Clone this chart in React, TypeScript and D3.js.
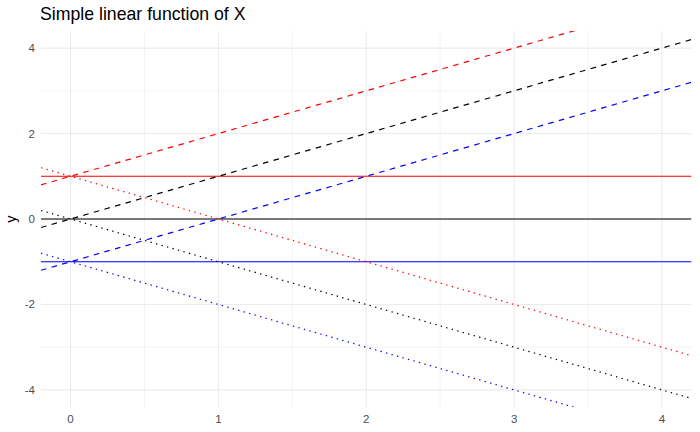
import React from "react";
import * as d3 from "d3";

const W = 700;
const H = 432;

const intercepts = [1, 0, -1];
const colors = ["red", "black", "blue"];
const slopes = [0, 1, -1];
const lineTypes = ["solid", "dashed", "dotted"];
const xTicks = [0, 1, 2, 3, 4];
const xMinor = [0.5, 1.5, 2.5, 3.5];
const yTicks = [-4, -2, 0, 2, 4];
const yMinor = [-3, -1, 1, 3];
const xDomain = [-0.2, 4.2];
const yDomain = [-4.4, 4.4];

const title = "Simple linear function of X";
const yLabel = "y";

const margin = { left: 41, right: 8.5, top: 31, bottom: 25 };

export default function App() {
  const x = d3.scaleLinear().domain(xDomain).range([margin.left, W - margin.right]);
  const y = d3.scaleLinear().domain(yDomain).range([H - margin.bottom, margin.top]);
  const line = d3
    .line<[number, number]>()
    .x((d) => x(d[0]))
    .y((d) => y(d[1]));

  const dashFor = (t: string) =>
    t === "dashed" ? "5.6,5.4" : t === "dotted" ? "1.4,4.3" : undefined;

  const lines: { d: string; color: string; dash?: string; key: string }[] = [];
  slopes.forEach((s, si) => {
    intercepts.forEach((b, bi) => {
      const pts: [number, number][] = [
        [xDomain[0], b + s * xDomain[0]],
        [xDomain[1], b + s * xDomain[1]],
      ];
      lines.push({
        d: line(pts) || "",
        color: colors[bi],
        dash: dashFor(lineTypes[si]),
        key: `${si}-${bi}`,
      });
    });
  });

  const font = "'Liberation Sans', Arial, sans-serif";
  const px0 = margin.left;
  const px1 = W - margin.right;
  const py0 = margin.top;
  const py1 = H - margin.bottom;

  return (
    <svg width={W} height={H} style={{ position: "absolute", left: 0, top: 0, background: "white" }}>
      <defs>
        <clipPath id="panel">
          <rect x={px0} y={py0} width={px1 - px0} height={py1 - py0} />
        </clipPath>
      </defs>
      <rect x={0} y={0} width={W} height={H} fill="white" />
      {xMinor.map((v) => (
        <line key={"xm" + v} x1={x(v)} x2={x(v)} y1={py0} y2={py1} stroke="#ebebeb" strokeWidth={0.6} />
      ))}
      {yMinor.map((v) => (
        <line key={"ym" + v} x1={px0} x2={px1} y1={y(v)} y2={y(v)} stroke="#ebebeb" strokeWidth={0.6} />
      ))}
      {xTicks.map((v) => (
        <line key={"xg" + v} x1={x(v)} x2={x(v)} y1={py0} y2={py1} stroke="#ebebeb" strokeWidth={1.1} />
      ))}
      {yTicks.map((v) => (
        <line key={"yg" + v} x1={px0} x2={px1} y1={y(v)} y2={y(v)} stroke="#ebebeb" strokeWidth={1.1} />
      ))}
      <g clipPath="url(#panel)">
        {lines.map((l) => (
          <path key={l.key} d={l.d} fill="none" stroke={l.color} strokeWidth={1.2} strokeDasharray={l.dash} />
        ))}
      </g>
      {xTicks.map((v) => (
        <text key={"xt" + v} x={x(v)} y={py1 + 16} textAnchor="middle" fontFamily={font} fontSize={11.5} fill="#4d4d4d">
          {v}
        </text>
      ))}
      {yTicks.map((v) => (
        <text key={"yt" + v} x={px0 - 6} y={y(v) + 4} textAnchor="end" fontFamily={font} fontSize={11.5} fill="#4d4d4d">
          {v}
        </text>
      ))}
      <text
        transform={`translate(${16},${(py0 + py1) / 2}) rotate(-90)`}
        textAnchor="middle"
        fontFamily={font}
        fontSize={14.5}
        fill="black"
      >
        {yLabel}
      </text>
      <text x={px0 - 1} y={20} fontFamily={font} fontSize={17.7} fill="black">
        {title}
      </text>
    </svg>
  );
}
